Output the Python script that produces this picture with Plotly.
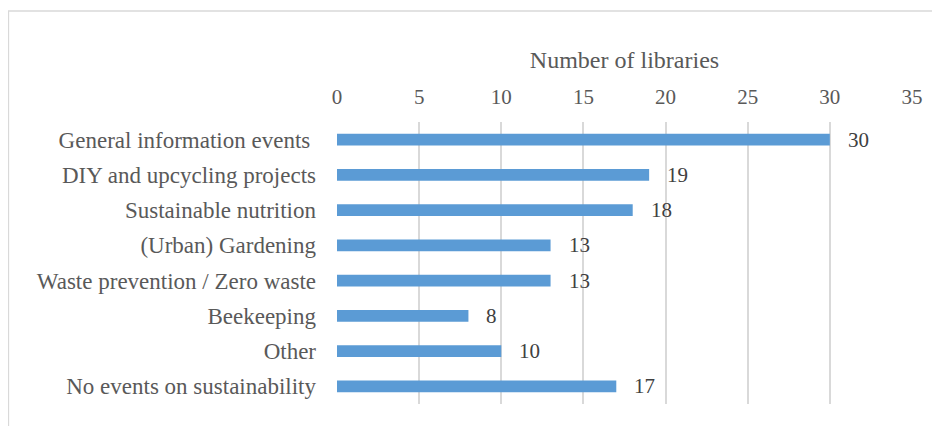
import plotly.graph_objects as go

categories = [
    "General information events ",
    "DIY and upcycling projects",
    "Sustainable nutrition",
    "(Urban) Gardening",
    "Waste prevention / Zero waste",
    "Beekeeping",
    "Other",
    "No events on sustainability",
]
values = [30, 19, 18, 13, 13, 8, 10, 17]
tick_vals = [0, 5, 10, 15, 20, 25, 30, 35]
axis_title = "Number of libraries"

FONT = "Liberation Serif"
# page has an 8px body margin; figure occupies the rest of the 940x426 window
W, H = 932, 418
ml, mr, mt, mb = 329, 28, 114, 22
pw, ph = W - ml - mr, H - mt - mb

fig = go.Figure()
fig.add_trace(go.Bar(
    y=categories, x=values, orientation="h",
    marker=dict(color="#5B9BD5", line=dict(width=0)),
    hoverinfo="x+y",
))

for c, v in zip(categories, values):
    fig.add_annotation(x=v, y=c, xref="x", yref="y", text=str(v),
                       showarrow=False, xanchor="left", xshift=16,
                       font=dict(family=FONT, size=21, color="#404040"))

# chart border (top and left visible)
fig.add_shape(type="rect", xref="paper", yref="paper",
              x0=(0.5 - ml) / pw, x1=(W + 20 - ml) / pw,
              y0=-(mb + 20) / ph, y1=(ph + mt - 3) / ph,
              line=dict(color="#D9D9D9", width=1.3), layer="below")

fig.update_layout(
    width=W, height=H,
    margin=dict(l=ml, r=mr, t=mt, b=mb),
    paper_bgcolor="white", plot_bgcolor="white",
    bargap=0.66,
    showlegend=False,
    font=dict(family=FONT, size=23, color="#595959"),
    xaxis=dict(
        side="top", range=[0, 35], tickvals=tick_vals,
        showgrid=True, gridcolor="#D9D9D9", gridwidth=1.5,
        zeroline=False, showline=False, ticks="",
        ticklabelstandoff=13,
        tickfont=dict(family=FONT, size=21, color="#595959"),
        title=dict(text=axis_title, standoff=9,
                   font=dict(family=FONT, size=24, color="#595959")),
    ),
    yaxis=dict(
        categoryorder="array", categoryarray=categories[::-1],
        showgrid=False, zeroline=False, showline=False, ticks="",
        ticklabelstandoff=20,
        tickfont=dict(family=FONT, size=23, color="#595959"),
    ),
)

fig.write_html("out.html")
